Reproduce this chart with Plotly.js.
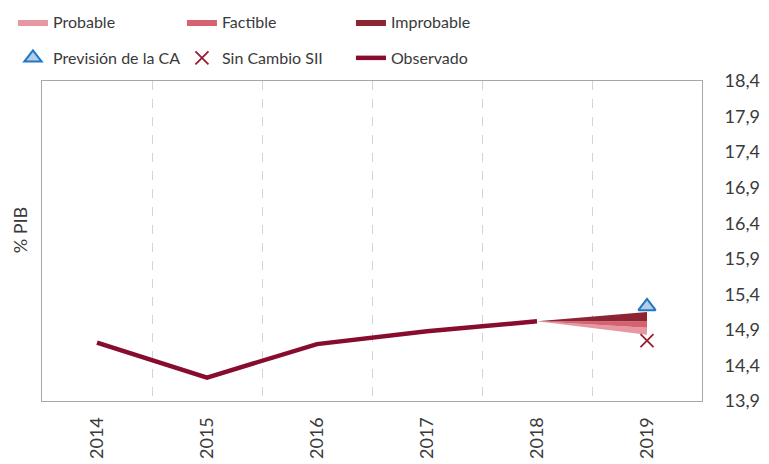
<!DOCTYPE html>
<html>
<head>
<meta charset="utf-8">
<script src="https://cdn.plot.ly/plotly-3.0.1.min.js"></script>
<style>html,body{margin:0;padding:0;background:#fff;}#chart{width:769px;height:464px;}</style>
</head>
<body>
<div id="chart"></div>
<script>
// ---- data ----
var years = ['2014', '2015', '2016', '2017', '2018', '2019'];
var observado = [14.72, 14.23, 14.70, 14.88, 15.02, null];

var fanYears = ['2018', '2019'];
var probableLower = [15.02, 14.83];
var probableUpper = [15.02, 14.93];
var factibleUpper = [15.02, 15.02];
var improbableUpper = [15.02, 15.15];

var previsionYear = ['2019'];
var previsionCA = [15.23];
var sinCambioYear = ['2019'];
var sinCambioSII = [14.75];

var yTicks = [13.9, 14.4, 14.9, 15.4, 15.9, 16.4, 16.9, 17.4, 17.9, 18.4];
var yTickText = yTicks.map(function (v) { return v.toFixed(1).replace('.', ','); });

var FONT = 'Lato, "DejaVu Sans", sans-serif';
var TXT = '#3a3a3a';

var cProb = 'rgb(230,152,162)';
var cFact = 'rgb(214,98,112)';
var cImpr = 'rgb(140,36,52)';
var cObs = 'rgb(135,12,45)';

var traces = [
  { x: fanYears, y: probableLower, mode: 'lines', line: { width: 0, color: cProb },
    showlegend: false, hoverinfo: 'skip' },
  { x: fanYears, y: probableUpper, mode: 'lines', fill: 'tonexty', fillcolor: cProb,
    line: { width: 0, color: cProb }, name: 'Probable', legend: 'legend' },
  { x: fanYears, y: factibleUpper, mode: 'lines', fill: 'tonexty', fillcolor: cFact,
    line: { width: 0, color: cFact }, name: 'Factible', legend: 'legend' },
  { x: fanYears, y: improbableUpper, mode: 'lines', fill: 'tonexty', fillcolor: cImpr,
    line: { width: 0, color: cImpr }, name: 'Improbable', legend: 'legend' },
  { x: years, y: observado, mode: 'lines', line: { width: 4.5, color: cObs },
    name: 'Observado', legend: 'legend2' },
  { x: previsionYear, y: previsionCA, mode: 'markers', name: 'Previsión de la CA',
    marker: { symbol: 'triangle-up', size: 15, color: 'rgb(184,204,228)',
      line: { color: 'rgb(30,120,200)', width: 2 } }, legend: 'legend2' },
  { x: sinCambioYear, y: sinCambioSII, mode: 'markers', name: 'Sin Cambio SII',
    marker: { symbol: 'x-thin-open', size: 13, color: 'rgb(150,30,50)',
      line: { color: 'rgb(150,30,50)', width: 1.8 } }, legend: 'legend2' }
];

// order of legend2: Previsión, Sin Cambio, Observado
traces[5].legendrank = 1;
traces[6].legendrank = 2;
traces[4].legendrank = 3;

var legendCommon = {
  orientation: 'h', xanchor: 'left', yanchor: 'middle',
  font: { family: FONT, size: 16, color: TXT },
  bgcolor: 'rgba(0,0,0,0)', entrywidth: 124, traceorder: 'normal',
  itemclick: false, itemdoubleclick: false
};

var layout = {
  width: 769, height: 464,
  margin: { l: 42, r: 67, t: 81, b: 63, autoexpand: false },
  paper_bgcolor: '#fff', plot_bgcolor: '#fff',
  font: { family: FONT, size: 17, color: TXT },
  separators: ',.',
  xaxis: {
    type: 'category', categoryorder: 'array', categoryarray: years,
    range: [-0.5, 5.5], tickson: 'boundaries', ticks: '',
    showgrid: true, gridcolor: '#d4d4d4', griddash: 'dash', gridwidth: 1,
    showline: true, mirror: true, linecolor: '#a6a6a6', linewidth: 1,
    tickangle: -90, ticklabelstandoff: 8,
    tickfont: { family: FONT, size: 18, color: TXT }, zeroline: false, fixedrange: true
  },
  yaxis: {
    side: 'right', range: [13.9, 18.4], tickvals: yTicks, ticktext: yTickText,
    showgrid: false, zeroline: false, ticks: '', ticklabelstandoff: 18,
    showline: true, mirror: true, linecolor: '#a6a6a6', linewidth: 1,
    tickfont: { family: FONT, size: 18, color: TXT }, fixedrange: true
  },
  legend: Object.assign({}, legendCommon, { x: -0.044, y: 1.184 }),
  legend2: Object.assign({}, legendCommon, { x: -0.044, y: 1.072 }),
  annotations: [{
    xref: 'paper', yref: 'paper', x: -0.033, y: 0.534, text: '% PIB',
    textangle: -90, showarrow: false, xanchor: 'center', yanchor: 'middle',
    font: { family: FONT, size: 18, color: TXT }
  }],
  showlegend: true
};

Plotly.newPlot('chart', traces, layout, { displayModeBar: false, staticPlot: true });
</script>
</body>
</html>
